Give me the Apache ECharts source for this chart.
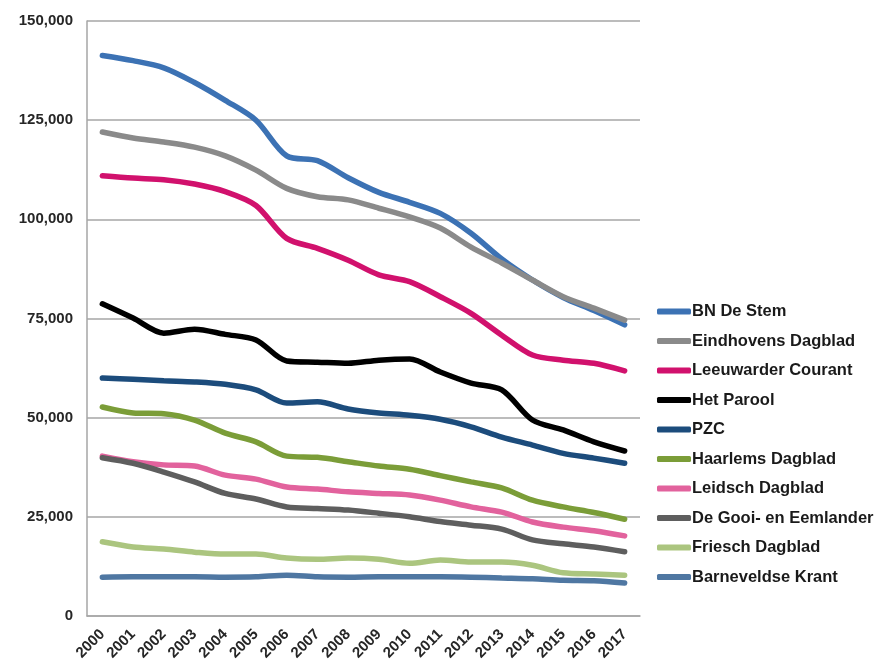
<!DOCTYPE html>
<html>
<head>
<meta charset="utf-8">
<style>
    html, body {margin: 0; padding: 0; background: #fff;}
    #chart-wrap {width: 885px; height: 661px;}
</style>
<script src="https://cdn.jsdelivr.net/npm/echarts@6/dist/echarts.min.js"></script>
</head>
<body>
<div id="chart-wrap"></div>
<script>
// 年份
let years = ['2000', '2001', '2002', '2003', '2004', '2005', '2006', '2007', '2008', '2009', '2010', '2011', '2012', '2013', '2014', '2015', '2016', '2017'];

// 各报纸发行量
let bnDeStem = [141300, 140000, 138200, 134500, 130000, 125000, 116000, 114800, 110500, 106800, 104300, 101500, 96500, 90000, 84700, 80300, 77000, 73400];
let eindhovensDagblad = [122000, 120500, 119500, 118200, 116000, 112400, 107800, 105700, 104900, 102800, 100600, 97800, 93000, 89000, 84700, 80500, 77600, 74600];
let leeuwarderCourant = [111000, 110400, 110000, 108900, 107000, 103500, 95200, 92700, 89700, 86000, 84300, 80500, 76300, 70800, 65800, 64500, 63700, 61800];
let hetParool = [78700, 75100, 71300, 72300, 71000, 69600, 64300, 64000, 63700, 64500, 64800, 61500, 58700, 57000, 49400, 46900, 43900, 41600];
let pzc = [60000, 59700, 59300, 59000, 58400, 57000, 53700, 54000, 52200, 51200, 50600, 49600, 47700, 45100, 43100, 41000, 39800, 38500];
let haarlemsDagblad = [52700, 51200, 51000, 49400, 46100, 43900, 40300, 40000, 38900, 37800, 37000, 35400, 33800, 32300, 29200, 27500, 26100, 24400];
let leidschDagblad = [40300, 38900, 38100, 37800, 35500, 34500, 32500, 32000, 31300, 30900, 30500, 29200, 27500, 26200, 23700, 22400, 21500, 20200];
let deGooi = [39900, 38500, 36300, 33800, 30900, 29500, 27500, 27100, 26700, 25900, 25000, 23800, 22900, 21900, 19200, 18200, 17400, 16200];
let frieschDagblad = [18700, 17400, 16900, 16100, 15600, 15600, 14600, 14300, 14600, 14300, 13300, 14100, 13600, 13600, 12800, 10900, 10600, 10300];
let barneveldseKrant = [9800, 9900, 9900, 9900, 9800, 9900, 10300, 9900, 9800, 9900, 9900, 9900, 9800, 9600, 9400, 9000, 8900, 8300];

let seriesList = [
    {name: 'BN De Stem', data: bnDeStem, color: '#3c72b4'},
    {name: 'Eindhovens Dagblad', data: eindhovensDagblad, color: '#8a8a8a'},
    {name: 'Leeuwarder Courant', data: leeuwarderCourant, color: '#d1116d'},
    {name: 'Het Parool', data: hetParool, color: '#000000'},
    {name: 'PZC', data: pzc, color: '#1c4c7c'},
    {name: 'Haarlems Dagblad', data: haarlemsDagblad, color: '#7b9d38'},
    {name: 'Leidsch Dagblad', data: leidschDagblad, color: '#e2629d'},
    {name: 'De Gooi- en Eemlander', data: deGooi, color: '#5e5e5e'},
    {name: 'Friesch Dagblad', data: frieschDagblad, color: '#abc57f'},
    {name: 'Barneveldse Krant', data: barneveldseKrant, color: '#4f77a2'}
];

let series = [];
for(let i=0; i<seriesList.length; i++) {
    series.push({
        name: seriesList[i].name,
        type: 'line',
        data: seriesList[i].data,
        smooth: 0.3,
        showSymbol: false,
        color: seriesList[i].color,
        lineStyle: {
            width: 5.5,
            color: seriesList[i].color,
            cap: 'round'
        }
    });
}

let echart = echarts.init(document.getElementById('chart-wrap'));
echart.setOption({
    animation: false,
    textStyle: {
        fontFamily: 'Liberation Sans, Arial, sans-serif'
    },
    grid: {
        left: 87,
        top: 21,
        right: 245,
        bottom: 45,
        outerBoundsMode: 'none'
    },
    legend: {
        orient: 'vertical',
        left: 652,
        top: 298,
        icon: 'roundRect',
        itemWidth: 34,
        itemHeight: 6,
        itemGap: 12.5,
        textStyle: {
            fontSize: 16.5,
            fontWeight: 'bold',
            color: '#1a1a1a',
            padding: [0, 0, 0, -4]
        }
    },
    xAxis: {
        type: 'category',
        boundaryGap: true,
        data: years,
        axisLine: {
            lineStyle: {color: '#a6a6a6', width: 1.5}
        },
        axisTick: {show: false},
        axisLabel: {
            rotate: 45,
            interval: 0,
            fontSize: 15,
            fontWeight: 'bold',
            color: '#262626',
            margin: 16
        }
    },
    yAxis: {
        type: 'value',
        min: 0,
        max: 150000,
        interval: 25000,
        axisLine: {
            show: true,
            lineStyle: {color: '#a6a6a6', width: 1.5}
        },
        axisTick: {show: false},
        axisLabel: {
            fontSize: 15,
            fontWeight: 'bold',
            color: '#262626',
            margin: 14,
            formatter: function (value) {
                return value.toLocaleString('en-US');
            }
        },
        splitLine: {
            lineStyle: {color: '#a6a6a6', width: 1.5}
        }
    },
    series: series
});
</script>
</body>
</html>
